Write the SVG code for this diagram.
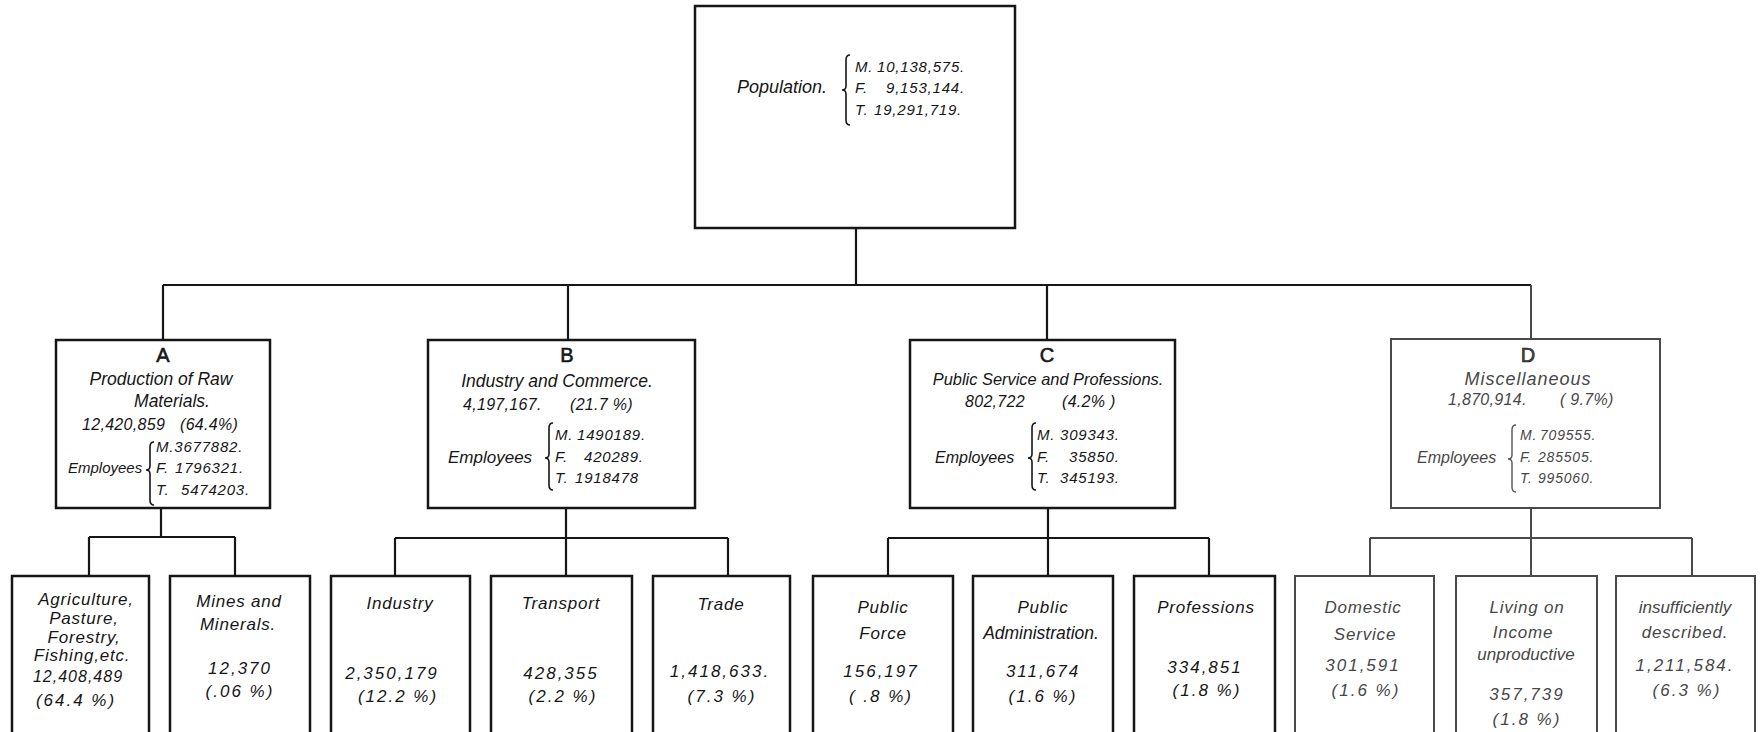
<svg xmlns="http://www.w3.org/2000/svg" width="1764" height="732" viewBox="0 0 1764 732">
<style>
.box{fill:#fff;stroke:#161616;stroke-width:2.5}
.boxd{fill:#fff;stroke:#4a4a4a;stroke-width:2}
.ln{stroke:#161616;stroke-width:2.2;fill:none}
.lnd{stroke:#4a4a4a;stroke-width:2;fill:none}
.br{fill:none;stroke:#161616;stroke-width:1.6}
.brd{fill:none;stroke:#555;stroke-width:1.4}
text{font-family:"Liberation Sans",Arial,sans-serif;font-style:italic;fill:#161616}
.c{text-anchor:middle}
.g{fill:#474747}
.let{font-style:normal;font-size:20px;stroke:#161616;stroke-width:0.6}
.hd{font-size:17.5px}
.num{font-size:16px;letter-spacing:0.3px}
.emp{font-size:15px;letter-spacing:0.8px}
.ti{font-size:17px;letter-spacing:0.8px}
.bn{font-size:17px;letter-spacing:2px}
</style>
<rect width="1764" height="732" fill="#fff"/>

<g id="connectors">
<path class="ln" d="M856 228V285M163 285H1531M163 285V340M568 285V340M1047 285V340"/>
<path class="lnd" d="M1531 285V339"/>
<path class="ln" d="M161 508V537M89 537H235M89 537V576M235 537V576"/>
<path class="ln" d="M566 508V538M395 538H728M395 538V576M566 538V576M728 538V576"/>
<path class="ln" d="M1048 508V538M888 538H1209M888 538V576M1048 538V576M1209 538V576"/>
<path class="lnd" d="M1531 508V538M1370 538H1692M1370 538V576M1531 538V576M1692 538V576"/>
</g>

<g id="population">
<rect class="box" x="695" y="6" width="320" height="222"/>
<text x="737" y="93" font-size="18">Population.</text>
<path class="br" d="M850 55Q846 55 846 60L846 86Q846 90 842 90Q846 90 846 94L846 120Q846 125 850 125"/>
<text class="emp" font-size="14.5"><tspan x="855" y="72">M.</tspan><tspan x="877" y="72">10,138,575.</tspan><tspan x="855" y="93">F.</tspan><tspan x="886" y="93">9,153,144.</tspan><tspan x="855" y="115">T.</tspan><tspan x="874" y="115">19,291,719.</tspan></text>
</g>

<g id="groupA">
<rect class="box" x="56" y="340" width="214" height="168"/>
<text class="let c" x="163" y="362">A</text>
<text class="hd c" x="161" y="385">Production of Raw</text>
<text class="hd c" x="172" y="407">Materials.</text>
<text class="num" x="82" y="430">12,420,859</text>
<text class="num" x="180" y="430">(64.4%)</text>
<text x="68" y="473" font-size="15">Employees</text>
<path class="br" d="M154 442Q150 442 150 447L150 466Q150 470 146 470Q150 470 150 474L150 500Q150 505 154 505"/>
<text class="emp"><tspan x="156" y="452">M.3677882.</tspan><tspan x="156" y="473">F.</tspan><tspan x="175" y="473">1796321.</tspan><tspan x="156" y="495">T.</tspan><tspan x="181" y="495">5474203.</tspan></text>
</g>

<g id="groupB">
<rect class="box" x="428" y="340" width="267" height="168"/>
<text class="let c" x="567" y="362">B</text>
<text class="hd c" x="557" y="387">Industry and Commerce.</text>
<text class="num" x="463" y="410">4,197,167.</text>
<text class="num" x="570" y="410">(21.7 %)</text>
<text x="448" y="463" font-size="17">Employees</text>
<path class="br" d="M553 423Q549 423 549 428L549 454Q549 458 545 458Q549 458 549 462L549 485Q549 490 553 490"/>
<text class="emp"><tspan x="555" y="440">M.</tspan><tspan x="577" y="440">1490189.</tspan><tspan x="555" y="462">F.</tspan><tspan x="584" y="462">420289.</tspan><tspan x="555" y="483">T.</tspan><tspan x="575" y="483">1918478</tspan></text>
</g>

<g id="groupC">
<rect class="box" x="910" y="340" width="265" height="168"/>
<text class="let c" x="1047" y="362">C</text>
<text class="c" x="1048" y="385" font-size="16.4">Public Service and Professions.</text>
<text class="num" x="965" y="407">802,722</text>
<text class="num" x="1062" y="407">(4.2% )</text>
<text x="935" y="463" font-size="16">Employees</text>
<path class="br" d="M1036 423Q1032 423 1032 428L1032 454Q1032 458 1028 458Q1032 458 1032 462L1032 485Q1032 490 1036 490"/>
<text class="emp"><tspan x="1037" y="440">M.</tspan><tspan x="1060" y="440">309343.</tspan><tspan x="1037" y="462">F.</tspan><tspan x="1069" y="462">35850.</tspan><tspan x="1037" y="483">T.</tspan><tspan x="1060" y="483">345193.</tspan></text>
</g>

<g id="groupD">
<rect class="boxd" x="1391" y="339" width="269" height="169"/>
<text class="let c g" x="1528" y="362" stroke="#474747">D</text>
<text class="c g" x="1528" y="385" font-size="18" letter-spacing="1">Miscellaneous</text>
<text class="num g" x="1448" y="405">1,870,914.</text>
<text class="num g" x="1560" y="405">( 9.7%)</text>
<text class="g" x="1417" y="463" font-size="16">Employees</text>
<path class="brd" d="M1516 425Q1512 425 1512 430L1512 455Q1512 459 1508 459Q1512 459 1512 463L1512 487Q1512 492 1516 492"/>
<text class="g" font-size="14" letter-spacing="0.8"><tspan x="1520" y="440">M.</tspan><tspan x="1540" y="440">709555.</tspan><tspan x="1520" y="462">F.</tspan><tspan x="1538" y="462">285505.</tspan><tspan x="1520" y="483">T.</tspan><tspan x="1538" y="483">995060.</tspan></text>
</g>

<g id="agriculture">
<rect class="box" x="12" y="576" width="137" height="170"/>
<text class="ti c" x="86" y="605">Agriculture,</text>
<text class="ti c" x="84" y="624">Pasture,</text>
<text class="ti c" x="84" y="643">Forestry,</text>
<text class="ti c" x="82" y="661">Fishing,etc.</text>
<text class="c" x="78" y="682" font-size="16" letter-spacing="1">12,408,489</text>
<text class="bn c" x="76" y="706">(64.4 %)</text>
</g>

<g id="mines">
<rect class="box" x="170" y="576" width="140" height="170"/>
<text class="ti c" x="239" y="607">Mines and</text>
<text class="ti c" x="238" y="630">Minerals.</text>
<text class="bn c" x="240" y="674">12,370</text>
<text class="bn c" x="240" y="697">(.06 %)</text>
</g>

<g id="industry">
<rect class="box" x="331" y="576" width="139" height="170"/>
<text class="ti c" x="400" y="609">Industry</text>
<text class="bn c" x="392" y="679">2,350,179</text>
<text class="bn c" x="398" y="702">(12.2 %)</text>
</g>

<g id="transport">
<rect class="box" x="491" y="576" width="141" height="170"/>
<text class="ti c" x="561" y="609">Transport</text>
<text class="bn c" x="561" y="679">428,355</text>
<text class="bn c" x="563" y="702">(2.2 %)</text>
</g>

<g id="trade">
<rect class="box" x="653" y="576" width="137" height="170"/>
<text class="ti c" x="721" y="610">Trade</text>
<text class="bn c" x="720" y="677">1,418,633.</text>
<text class="bn c" x="722" y="702">(7.3 %)</text>
</g>

<g id="publicforce">
<rect class="box" x="813" y="576" width="140" height="170"/>
<text class="ti c" x="883" y="613">Public</text>
<text class="ti c" x="883" y="639">Force</text>
<text class="bn c" x="881" y="677">156,197</text>
<text class="bn c" x="881" y="702">( .8 %)</text>
</g>

<g id="publicadmin">
<rect class="box" x="973" y="576" width="140" height="170"/>
<text class="ti c" x="1043" y="613">Public</text>
<text class="c" x="1041" y="639" font-size="17.5">Administration.</text>
<text class="bn c" x="1043" y="677">311,674</text>
<text class="bn c" x="1043" y="702">(1.6 %)</text>
</g>

<g id="professions">
<rect class="box" x="1134" y="576" width="141" height="170"/>
<text class="ti c" x="1206" y="613">Professions</text>
<text class="bn c" x="1205" y="673">334,851</text>
<text class="bn c" x="1207" y="696">(1.8 %)</text>
</g>

<g id="domestic">
<rect class="boxd" x="1295" y="576" width="139" height="170"/>
<text class="ti c g" x="1363" y="613">Domestic</text>
<text class="ti c g" x="1365" y="640">Service</text>
<text class="bn c g" x="1363" y="671">301,591</text>
<text class="bn c g" x="1366" y="696">(1.6 %)</text>
</g>

<g id="living">
<rect class="boxd" x="1456" y="576" width="141" height="170"/>
<text class="ti c g" x="1527" y="613">Living on</text>
<text class="ti c g" x="1523" y="638">Income</text>
<text class="c g" x="1526" y="660" font-size="17">unproductive</text>
<text class="bn c g" x="1527" y="700">357,739</text>
<text class="bn c g" x="1527" y="725">(1.8 %)</text>
</g>

<g id="insufficient">
<rect class="boxd" x="1616" y="576" width="139" height="170"/>
<text class="c g" x="1685" y="613" font-size="17">insufficiently</text>
<text class="ti c g" x="1685" y="638">described.</text>
<text class="bn c g" x="1685" y="671">1,211,584.</text>
<text class="bn c g" x="1687" y="696">(6.3 %)</text>
</g>
</svg>
